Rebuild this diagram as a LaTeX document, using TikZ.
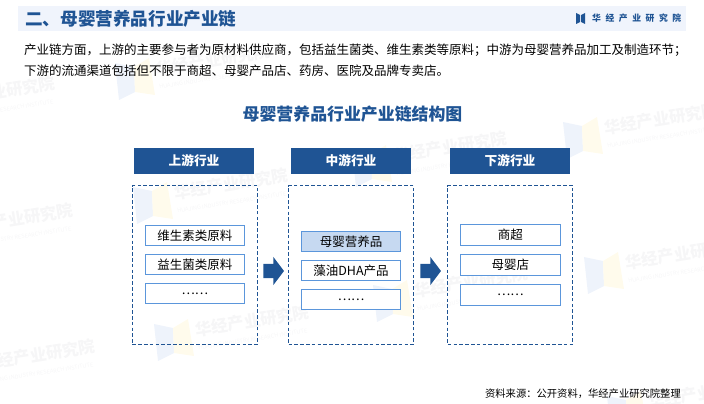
\documentclass[tikz,border=0pt]{standalone}
\usepackage{fontspec}
\setmainfont{Noto Sans CJK SC}
\newfontfamily\logofont[LetterSpace=52]{Noto Sans CJK SC}
\usetikzlibrary{shapes.arrows}
\definecolor{chainblue}{HTML}{1F5494}
\definecolor{boxblue}{HTML}{5B96DB}
\definecolor{hlblue}{HTML}{C6D9F1}
\definecolor{barblue}{HTML}{F0F4FC}
\definecolor{markgray}{HTML}{F6F6F7}
\definecolor{markblue}{HTML}{EEF3FB}
\definecolor{markyellow}{HTML}{FFFBEC}
\tikzstyle{headbox}=[fill=chainblue,text=white,font=\fontsize{12.7}{14}\selectfont\bfseries,minimum width=120,minimum height=26,inner sep=0]
\tikzstyle{groupbox}=[draw=chainblue,line width=1,dash pattern=on 3.6 off 2.2,minimum width=125,minimum height=159,inner sep=0]
\tikzstyle{itembox}=[draw=boxblue,fill=white,line width=1,font=\fontsize{12.5}{14}\selectfont,minimum width=99.5,minimum height=20.5,inner sep=0]
\tikzstyle{flowarrow}=[single arrow,fill=chainblue,inner xsep=0,inner ysep=7,minimum height=20.5,minimum width=28,single arrow head extend=7,single arrow tip angle=106]
\def\wmark#1#2#3{
    \fill[markblue,shift={(#2,#3)}] (0,0) -- (19,4) -- (20,29) -- (4,37) -- cycle;
    \fill[markyellow,shift={(#2,#3)}] (19,4) -- (34,-5) -- (40,32) -- (20,29) -- cycle;
    \node[markgray,rotate=9,anchor=west,inner sep=0,font=\fontsize{16.5}{18}\selectfont\bfseries] (mark#1) at (#2+41,#3+6) {华经产业研究院};
    \node[markgray,rotate=9,anchor=west,inner sep=0,font=\fontsize{5.6}{6}\selectfont] (markEn#1) at (#2+44,#3+24) {HUAJING INDUSTRY RESEARCH INSTITUTE};
}

\begin{document}
\begin{tikzpicture}[x=1pt,y=-1pt]
        \useasboundingbox (0,0) rectangle (704,404);
        
        % watermarks behind everything
        \foreach \n/\mx/\my in {1/-100/95,2/115/63,3/-82/222,4/133/187,5/352/150,6/563/122,7/-60/358,8/154/324,9/373/285,10/584/257,11/607/396}
            {\wmark{\n}{\mx}{\my}}
        
        % title bar
        \fill[barblue] (18,6) rectangle (686,31);
        \node[chainblue,anchor=west,inner sep=0,font=\fontsize{17.6}{20}\selectfont\bfseries] (title) at (25,19) {二、母婴营养品行业产业链};
        \fill[chainblue] (576,13) -- (580,15) -- (580,22) -- (576,24) -- cycle;
        \fill[chainblue] (581,15) -- (585,13) -- (585,24) -- (581,22) -- cycle;
        \node[chainblue,anchor=west,inner sep=0,font=\logofont\fontsize{8.8}{10}\selectfont\bfseries] (brand) at (592,18) {华经产业研究院};
        
        % intro text
        \node[anchor=west,inner sep=0,font=\fontsize{12.5}{14}\selectfont] (introA) at (24,50.5) {产业链方面，上游的主要参与者为原材料供应商，包括益生菌类、维生素类等原料；中游为母婴营养品加工及制造环节；};
        \node[anchor=west,inner sep=0,font=\fontsize{12.5}{14}\selectfont] (introB) at (24,70.5) {下游的流通渠道包括但不限于商超、母婴产品店、药房、医院及品牌专卖店。};
        \node[chainblue,inner sep=0,font=\fontsize{16.9}{20}\selectfont\bfseries] (heading) at (352.5,114) {母婴营养品行业产业链结构图};
        
        % upstream
        \node[headbox] (upHead) at (194,161) {上游行业};
        \node[groupbox] (upGroup) at (194.8,265) {};
        \node[itembox] (upA) at (194.8,235.5) {维生素类原料};
        \node[itembox] (upB) at (194.8,264.5) {益生菌类原料};
        \node[itembox] (upC) at (194.8,293.7) {……};
        
        % midstream
        \node[headbox] (midHead) at (351,161) {中游行业};
        \node[groupbox] (midGroup) at (351,265) {};
        \node[itembox,fill=hlblue] (midA) at (351,241.5) {母婴营养品};
        \node[itembox] (midB) at (351,270.5) {藻油DHA产品};
        \node[itembox] (midC) at (351,299.5) {……};
        
        % downstream
        \node[headbox] (downHead) at (510,161) {下游行业};
        \node[groupbox] (downGroup) at (510.3,265) {};
        \node[itembox] (downA) at (510.3,235) {商超};
        \node[itembox] (downB) at (510.3,265) {母婴店};
        \node[itembox] (downC) at (510.3,295) {……};
        
        \node[flowarrow] (arrowA) at (271,271) {};
        \node[flowarrow] (arrowB) at (428,271) {};
        
        \node[anchor=east,inner sep=0,font=\fontsize{10.3}{12}\selectfont] (source) at (681,394) {资料来源：公开资料，华经产业研究院整理};
    \end{tikzpicture}
\end{document}
